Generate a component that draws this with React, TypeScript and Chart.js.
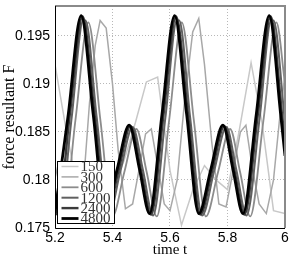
import React, { useEffect, useRef } from "react";
import { Chart, registerables } from "chart.js";

Chart.register(...registerables);

const seriesLabels = ["150", "300", "600", "1200", "2400", "4800"];
const seriesColors = ["#c8c8c8", "#a8a8a8", "#8c8c8c", "#606060", "#3a3a3a", "#000000"];
const seriesWidths = [1.5, 1.5, 1.8, 2, 2.4, 2.8];

const xTicks = [5.2, 5.4, 5.6, 5.8, 6];
const xTickLabels = ["5.2", "5.4", "5.6", "5.8", "6"];
const yTicks = [0.175, 0.18, 0.185, 0.19, 0.195];
const yTickLabels = ["0.175", "0.18", "0.185", "0.19", "0.195"];

const t150 = [5.2, 5.24, 5.28, 5.32, 5.36, 5.4, 5.44, 5.48, 5.518, 5.557, 5.6, 5.64, 5.68, 5.72, 5.76, 5.8, 5.84, 5.882, 5.92, 5.96, 6.0];
const f150 = [0.192, 0.185, 0.179, 0.1775, 0.18, 0.179, 0.182, 0.186, 0.1902, 0.1907, 0.181, 0.1753, 0.179, 0.1815, 0.18, 0.179, 0.185, 0.1922, 0.186, 0.1768, 0.1765];

const t300 = [5.2, 5.22, 5.25, 5.275, 5.3, 5.32, 5.34, 5.357, 5.378, 5.4, 5.42, 5.445, 5.47, 5.495, 5.515, 5.535, 5.56, 5.58, 5.6, 5.625, 5.65, 5.679, 5.7, 5.72, 5.745, 5.77, 5.795, 5.82, 5.845, 5.864, 5.885, 5.91, 5.935, 5.96, 5.98, 6.0];
const f300 = [0.1815, 0.179, 0.1768, 0.1763, 0.18, 0.188, 0.194, 0.1966, 0.1958, 0.19, 0.183, 0.177, 0.1775, 0.1815, 0.1848, 0.1853, 0.181, 0.1775, 0.1768, 0.18, 0.188, 0.1954, 0.1968, 0.192, 0.184, 0.1775, 0.1772, 0.181, 0.185, 0.1857, 0.1815, 0.1775, 0.1765, 0.18, 0.186, 0.191];

const t600 = [5.2, 5.229, 5.271, 5.316, 5.358, 5.4, 5.441, 5.483, 5.519, 5.554, 5.597, 5.641, 5.683, 5.725, 5.767, 5.809, 5.844, 5.879, 5.925, 5.97, 6.0];
const f600 = [0.179, 0.1762, 0.1862, 0.1964, 0.1862, 0.1762, 0.1808, 0.1853, 0.1808, 0.1762, 0.1862, 0.1964, 0.1862, 0.1762, 0.1808, 0.1853, 0.1808, 0.1762, 0.1862, 0.1964, 0.19];

const t1200 = [5.2, 5.216, 5.258, 5.298, 5.306, 5.345, 5.387, 5.428, 5.47, 5.506, 5.541, 5.584, 5.624, 5.632, 5.67, 5.712, 5.754, 5.796, 5.831, 5.866, 5.912, 5.952, 5.96, 6.0];
const f1200 = [0.1775, 0.1763, 0.1865, 0.1966, 0.1966, 0.1865, 0.1763, 0.181, 0.1855, 0.181, 0.1763, 0.1865, 0.1966, 0.1966, 0.1865, 0.1763, 0.181, 0.1855, 0.181, 0.1763, 0.1865, 0.1966, 0.1966, 0.186];

const t2400 = [5.2, 5.209, 5.251, 5.296, 5.338, 5.38, 5.421, 5.463, 5.499, 5.534, 5.577, 5.621, 5.663, 5.705, 5.747, 5.789, 5.824, 5.859, 5.905, 5.95, 5.99, 6.0];
const f2400 = [0.1768, 0.1764, 0.1867, 0.197, 0.1867, 0.1764, 0.181, 0.1856, 0.181, 0.1764, 0.1867, 0.197, 0.1867, 0.1764, 0.181, 0.1856, 0.181, 0.1764, 0.1867, 0.197, 0.1867, 0.184];

const t4800 = [5.2, 5.246, 5.291, 5.333, 5.375, 5.416, 5.458, 5.494, 5.529, 5.572, 5.616, 5.658, 5.7, 5.742, 5.784, 5.819, 5.854, 5.9, 5.945, 5.985, 6.0];
const f4800 = [0.1766, 0.1868, 0.1971, 0.1868, 0.1765, 0.1811, 0.1857, 0.1811, 0.1765, 0.1868, 0.1971, 0.1868, 0.1765, 0.1811, 0.1857, 0.1811, 0.1765, 0.1868, 0.1971, 0.1868, 0.1825];

const times = [t150, t300, t600, t1200, t2400, t4800];
const values = [f150, f300, f600, f1200, f2400, f4800];
const smooth = [false, false, true, true, true, true];

const framePlugin = {
  id: "frameAndLegend",
  afterDraw(chart: any) {
    const { ctx, chartArea } = chart;
    const { left, right, top, bottom } = chartArea;
    ctx.save();
    ctx.setLineDash([]);
    ctx.strokeStyle = "#8a8a8a";
    ctx.lineWidth = 2;
    ctx.beginPath();
    ctx.moveTo(left, top);
    ctx.lineTo(right, top);
    ctx.lineTo(right, bottom);
    ctx.stroke();
    ctx.strokeStyle = "#000";
    ctx.lineWidth = 1;
    ctx.beginPath();
    ctx.moveTo(left + 0.5, top);
    ctx.lineTo(left + 0.5, bottom + 0.5);
    ctx.lineTo(right, bottom + 0.5);
    ctx.stroke();

    // legend
    const lx = left + 2.5;
    const ly = bottom - 66.5;
    const lw = 57;
    const lh = 62;
    ctx.fillStyle = "#ffffff";
    ctx.fillRect(lx, ly, lw, lh);
    ctx.strokeStyle = "#000";
    ctx.lineWidth = 1;
    ctx.strokeRect(lx, ly, lw, lh);
    ctx.font = "15px 'Liberation Serif', serif";
    ctx.textBaseline = "middle";
    ctx.textAlign = "left";
    for (let i = 0; i < seriesLabels.length; i++) {
      const cy = ly + 5 + i * 10.4;
      ctx.strokeStyle = seriesColors[i];
      ctx.lineWidth = seriesWidths[i];
      ctx.beginPath();
      ctx.moveTo(lx + 4, cy);
      ctx.lineTo(lx + 21, cy);
      ctx.stroke();
      ctx.fillStyle = "#333";
      ctx.fillText(seriesLabels[i], lx + 23, cy + 1);
    }
    ctx.restore();
  },
};

export default function App() {
  const ref = useRef<HTMLCanvasElement | null>(null);
  useEffect(() => {
    document.body.style.margin = "0";
    if (!ref.current) return;
    const datasets = seriesLabels.map((lab, i) => ({
      label: lab,
      data: times[i].map((t, j) => ({ x: t, y: values[i][j] })),
      borderColor: seriesColors[i],
      backgroundColor: seriesColors[i],
      borderWidth: seriesWidths[i],
      pointRadius: 0,
      fill: false,
      cubicInterpolationMode: smooth[i] ? "monotone" : "default",
      tension: 0,
      order: seriesLabels.length - i,
    }));
    const chart = new Chart(ref.current, {
      type: "line",
      data: { datasets } as any,
      options: {
        animation: false,
        responsive: false,
        maintainAspectRatio: false,
        layout: { padding: { top: 6, right: 6, left: 0, bottom: 0 } },
        plugins: { legend: { display: false }, tooltip: { enabled: false } },
        scales: {
          x: {
            type: "linear",
            min: 5.2,
            max: 6,
            afterBuildTicks: (s: any) => {
              s.ticks = xTicks.map((v) => ({ value: v }));
            },
            afterFit: (s: any) => {
              s.height = 31;
              s.paddingLeft = 0;
              s.paddingRight = 0;
            },
            ticks: {
              autoSkip: false,
              maxRotation: 0,
              padding: 2,
              color: "#000",
              font: { family: "'Liberation Sans', Arial, sans-serif", size: 14 },
              callback: (v: any) => {
                const k = xTicks.findIndex((t) => Math.abs(t - v) < 1e-9);
                return k >= 0 ? xTickLabels[k] : "";
              },
            },
            grid: { color: "#b8b8b8", lineWidth: 1, drawTicks: false },
            border: { display: false, dash: [1, 2] },
            title: {
              display: true,
              text: "time t",
              color: "#000",
              font: { family: "'Liberation Serif', serif", size: 15 },
              padding: { top: 0, bottom: 0 },
            },
          },
          y: {
            type: "linear",
            min: 0.175,
            max: 0.1981,
            afterBuildTicks: (s: any) => {
              s.ticks = yTicks.map((v) => ({ value: v }));
            },
            afterFit: (s: any) => {
              s.width = 55;
              s.paddingTop = 0;
              s.paddingBottom = 0;
            },
            ticks: {
              padding: 5,
              color: "#000",
              font: { family: "'Liberation Sans', Arial, sans-serif", size: 14 },
              callback: (v: any) => {
                const k = yTicks.findIndex((t) => Math.abs(t - v) < 1e-9);
                return k >= 0 ? yTickLabels[k] : "";
              },
            },
            grid: { color: "#b8b8b8", lineWidth: 1, drawTicks: false },
            border: { display: false, dash: [1, 2] },
            title: {
              display: true,
              text: "force resultant F",
              color: "#000",
              font: { family: "'Liberation Serif', serif", size: 16 },
              padding: { top: 0, bottom: 0 },
            },
          },
        },
      } as any,
      plugins: [framePlugin],
    });
    return () => chart.destroy();
  }, []);
  return (
    <div style={{ width: 291, height: 259 }}>
      <canvas ref={ref} width={291} height={259} />
    </div>
  );
}
